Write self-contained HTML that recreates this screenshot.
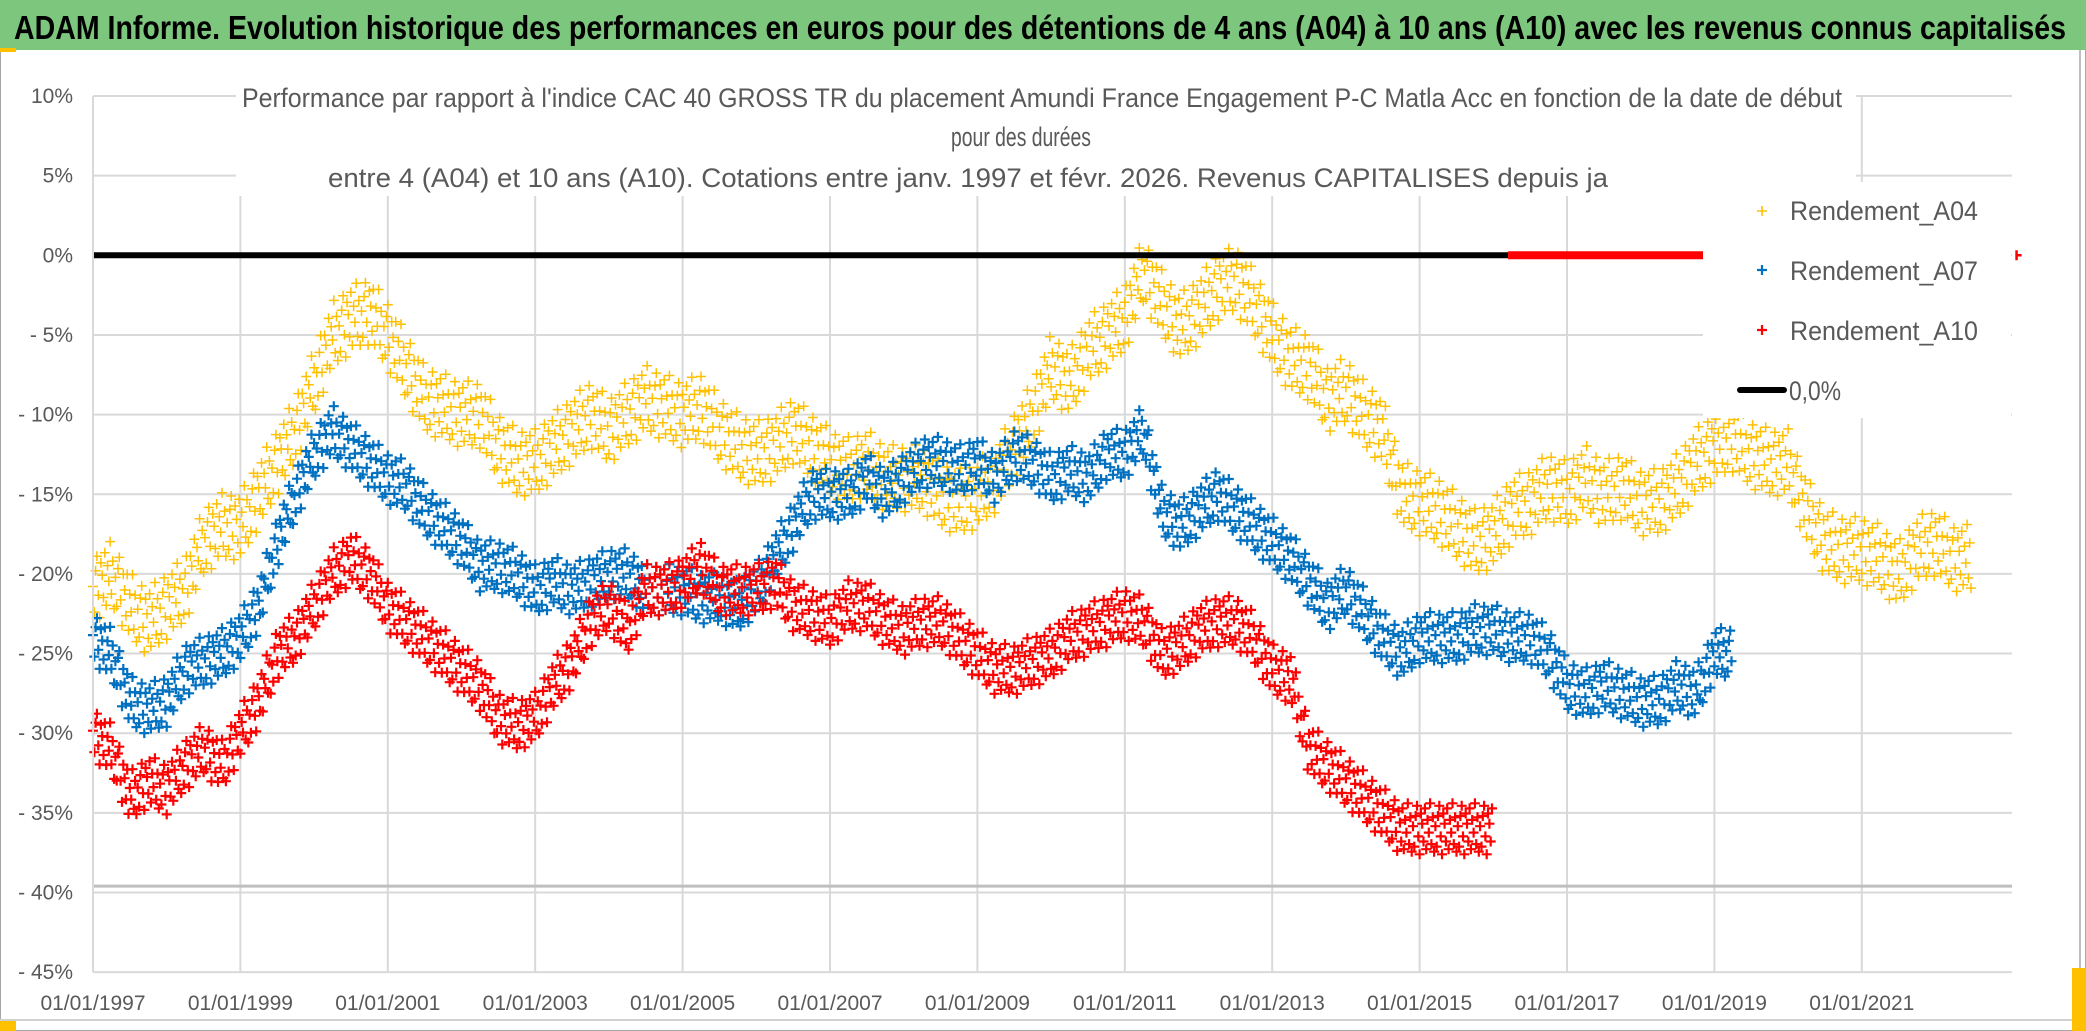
<!DOCTYPE html>
<html><head><meta charset="utf-8"><style>
html,body{margin:0;padding:0;background:#fff;}
svg{display:block;font-family:"Liberation Sans",sans-serif;}
</style></head><body>
<svg id="chart" width="2086" height="1031" viewBox="0 0 2086 1031" xmlns="http://www.w3.org/2000/svg">
<rect x="0" y="0" width="2086" height="1031" fill="#fff"/>
<rect x="0.5" y="0.5" width="2085" height="1030" fill="none" stroke="#a6a6a6"/>
<line x1="2080" y1="50" x2="2080" y2="1020" stroke="#bfbfbf" stroke-width="2"/>
<line x1="0" y1="1020" x2="2080" y2="1020" stroke="#d0d0d0" stroke-width="2"/>
<rect x="0" y="1021" width="16" height="10" fill="#ffc000"/>
<rect x="2072" y="968" width="14" height="63" fill="#ffc000"/>
<rect x="0" y="0" width="2086" height="50" fill="#7dc67d"/>
<rect x="0" y="48" width="16" height="4" fill="#ffc000"/>
<text x="14" y="39" font-size="33" font-weight="bold" fill="#000" textLength="2052" lengthAdjust="spacingAndGlyphs">ADAM Informe. Evolution historique des performances en euros pour des détentions de 4 ans (A04) à 10 ans (A10) avec les revenus connus capitalisés</text>
<g id="grid"></g>
<g id="marks"></g>
<g id="axes"></g>
<rect x="236" y="62" width="1620" height="134" fill="#fff"/>
<text x="1042" y="107" font-size="27" fill="#595959" text-anchor="middle" textLength="1600" lengthAdjust="spacingAndGlyphs">Performance par rapport à l'indice CAC 40 GROSS TR  du placement Amundi France Engagement P-C Matla Acc en fonction de la date de début</text>
<text x="1021" y="146" font-size="27" fill="#595959" text-anchor="middle" textLength="140" lengthAdjust="spacingAndGlyphs">pour des durées</text>
<text x="328" y="187" font-size="27" fill="#595959" textLength="1280" lengthAdjust="spacingAndGlyphs">entre 4 (A04) et 10 ans (A10). Cotations entre janv. 1997 et févr. 2026. Revenus CAPITALISES depuis ja</text>
<g id="legend">
<rect x="1703" y="182" width="308" height="236" fill="#fff"/>
<path d="M1757 211h10M1762 206v10" stroke="#ffc000" stroke-width="1.6"/>
<text x="1790" y="220" font-size="27" fill="#595959" textLength="188" lengthAdjust="spacingAndGlyphs">Rendement_A04</text>
<path d="M1757 270h10M1762 265v10" stroke="#0070c0" stroke-width="2.2"/>
<text x="1790" y="280" font-size="27" fill="#595959" textLength="188" lengthAdjust="spacingAndGlyphs">Rendement_A07</text>
<path d="M1757 330h10M1762 325v10" stroke="#ff0000" stroke-width="2.2"/>
<text x="1790" y="340" font-size="27" fill="#595959" textLength="188" lengthAdjust="spacingAndGlyphs">Rendement_A10</text>
<line x1="1740" y1="390" x2="1784" y2="390" stroke="#000" stroke-width="6" stroke-linecap="round"/>
<text x="1789" y="400" font-size="27" fill="#595959" textLength="52" lengthAdjust="spacingAndGlyphs">0,0%</text>
</g>
</svg>
<script>
// ---- data ----
const yTicks = [10, 5, 0, -5, -10, -15, -20, -25, -30, -35, -40, -45];
const yTickLabels = ["10%", "5%", "0%", "- 5%", "- 10%", "- 15%", "- 20%", "- 25%", "- 30%", "- 35%", "- 40%", "- 45%"];
const xTicks = [1997, 1999, 2001, 2003, 2005, 2007, 2009, 2011, 2013, 2015, 2017, 2019, 2021];
const xTickLabels = ["01/01/1997", "01/01/1999", "01/01/2001", "01/01/2003", "01/01/2005", "01/01/2007", "01/01/2009", "01/01/2011", "01/01/2013", "01/01/2015", "01/01/2017", "01/01/2019", "01/01/2021"];
const quarterStep = 0.25;
const a04Start = 1997;
const a04Values = [-21, -20, -22, -23, -22, -21, -18, -17, -17, -15, -13, -11, -8, -5, -4, -3.5, -5, -7, -9, -9.5, -10, -10, -12, -13, -13, -12, -11, -10, -11, -10, -9, -9.5, -10, -9.5, -11, -12, -12.5, -12, -11, -12, -13, -13.5, -13, -14, -14, -14, -15, -15.5, -15, -14, -12, -10, -7, -8, -6, -5, -4, -1, -3, -4.5, -3.5, -2, -1.5, -3, -5, -6.5, -7, -9, -8.5, -10, -11, -15, -15.5, -16, -17, -18, -17.5, -16, -15.5, -14.5, -15, -14, -15, -14.5, -15.5, -15.5, -14.5, -13, -12, -11.5, -12.5, -13, -13, -16, -18, -18.5, -18.5, -19, -20, -18.5, -18, -19];
const a07Start = 1997;
const a07Values = [-24, -25, -28, -28.5, -28, -26, -25.5, -25, -24, -22, -18, -15, -12.5, -11, -12, -13, -14, -14.5, -16, -17, -18, -19.5, -19.5, -20, -21, -20.5, -21, -20.5, -20, -20, -21, -21, -21, -21.5, -21.5, -22, -21, -19, -17, -15, -15, -15, -14, -15, -14, -13, -13, -13.5, -13, -14, -12.5, -13, -14, -13.5, -14, -12.5, -12.5, -11, -16, -17, -16, -15, -16, -17, -18, -19, -20.5, -22, -21, -22.5, -24, -25, -24, -24, -24, -23.5, -23.5, -24, -24, -25, -27, -27.5, -27, -27.5, -28, -28, -27, -27.5, -25];
const a10Start = 1997;
const a10Values = [-30, -31, -34, -33, -33.5, -32, -31, -32, -30, -28, -25, -24, -22, -20, -19, -20, -22, -23, -24, -25, -26, -27, -29, -29.5, -29, -27, -25.5, -23, -22, -23.5, -21, -21, -20.5, -19.5, -21, -21, -21, -20.5, -22, -22.5, -23, -22, -22, -23, -23.5, -23, -23, -24, -25, -26, -26, -25.5, -25, -24, -23.5, -23, -22.5, -23, -25, -24.5, -23.5, -23, -23, -24, -26, -26.5, -31, -32, -33, -34, -35, -36, -36, -36, -36, -36];
const a10ZeroFrom = 2016.2;
const a10ZeroTo = 2018.85;
const a10LatePointYear = 2023.1;
const a10LatePointValue = 0;
const zeroLineFrom = 1997;
const zeroLineTo = 2016.2;
const thresholdValue = -39.6;

// ---- scales ----
const X0 = 93, PX_PER_YEAR = 73.7, PLOT_RIGHT = 2012;
const Y_TOP = 96, PX_PER_PCT = 15.93;
function xs(year){ return X0 + (year - 1997) * PX_PER_YEAR; }
function ys(v){ return Y_TOP + (10 - v) * PX_PER_PCT; }
const NS = "http://www.w3.org/2000/svg";
function mk(tag, attrs, parent){ const e = document.createElementNS(NS, tag); for (const k in attrs) e.setAttribute(k, attrs[k]); parent.appendChild(e); return e; }

const grid = document.getElementById('grid');
const axes = document.getElementById('axes');
const marks = document.getElementById('marks');

yTicks.forEach((v, i) => {
  const gl = mk('line', {x1: X0, x2: PLOT_RIGHT, y1: ys(v), y2: ys(v), stroke: '#d9d9d9', 'stroke-width': 2}, grid);
  
  
  const t = mk('text', {x: 73, y: ys(v) + 7, 'font-size': 21, fill: '#595959', 'text-anchor': 'end'}, axes);
  t.textContent = yTickLabels[i];
  
  
});
xTicks.forEach((yr, i) => {
  const gl = mk('line', {x1: xs(yr), x2: xs(yr), y1: Y_TOP, y2: ys(-45), stroke: '#d9d9d9', 'stroke-width': 2}, grid);
  
  
  const t = mk('text', {x: xs(yr), y: 1010, 'font-size': 21, fill: '#595959', 'text-anchor': 'middle'}, axes);
  t.textContent = xTickLabels[i];
  
  
});
const th = mk('line', {x1: X0, x2: PLOT_RIGHT, y1: ys(thresholdValue), y2: ys(thresholdValue), stroke: '#bfbfbf', 'stroke-width': 3}, grid);



const pattern = [0.1, -0.7, 0.5, 0.9, -0.3, -1, 0.6, 0.2, -0.5, 0.8, -0.8, 0.35, -0.15, 1, -0.6, 0.45, -0.9];
function drawSeries(name, start, vals, color, sw, spread, perStep){
  const g = mk('g', {}, marks);
  
  
  let c = 0;
  for (let i = 0; i < vals.length; i++){
    const next = i + 1 < vals.length ? vals[i + 1] : vals[i];
    let d = '';
    for (let k = 0; k < perStep; k++){
      const t = k / perStep;
      const yr = start + (i + t) * quarterStep;
      const v = vals[i] + (next - vals[i]) * t + spread * pattern[c % pattern.length];
      c++;
      const x = xs(yr), y = ys(v);
      d += 'M' + (x - 5).toFixed(1) + ' ' + y.toFixed(1) + 'h10M' + x.toFixed(1) + ' ' + (y - 5).toFixed(1) + 'v10';
    }
    const p = mk('path', {d: d, stroke: color, 'stroke-width': sw, fill: 'none'}, g);
    
    
  }
}
drawSeries('a04', a04Start, a04Values, '#ffc000', 1.5, 2.1, 14);
drawSeries('a07', a07Start, a07Values, '#0070c0', 2.2, 1.6, 14);
drawSeries('a10', a10Start, a10Values, '#ff0000', 2.2, 1.6, 14);

const zl = mk('line', {x1: xs(zeroLineFrom), x2: xs(zeroLineTo), y1: ys(0), y2: ys(0), stroke: '#000', 'stroke-width': 6}, marks);


const rz = mk('line', {x1: xs(a10ZeroFrom), x2: xs(a10ZeroTo), y1: ys(0), y2: ys(0), stroke: '#ff0000', 'stroke-width': 8}, marks);


const lp = mk('path', {d: 'M' + xs(a10LatePointYear) + ' ' + (ys(a10LatePointValue) - 5) + 'v10M' + (xs(a10LatePointYear)) + ' ' + ys(a10LatePointValue) + 'h5', stroke: '#ff0000', 'stroke-width': 2.5}, marks);



const ax = mk('line', {x1: X0, x2: X0, y1: Y_TOP, y2: ys(-45), stroke: '#d9d9d9', 'stroke-width': 2}, axes);


</script>
</body></html>
